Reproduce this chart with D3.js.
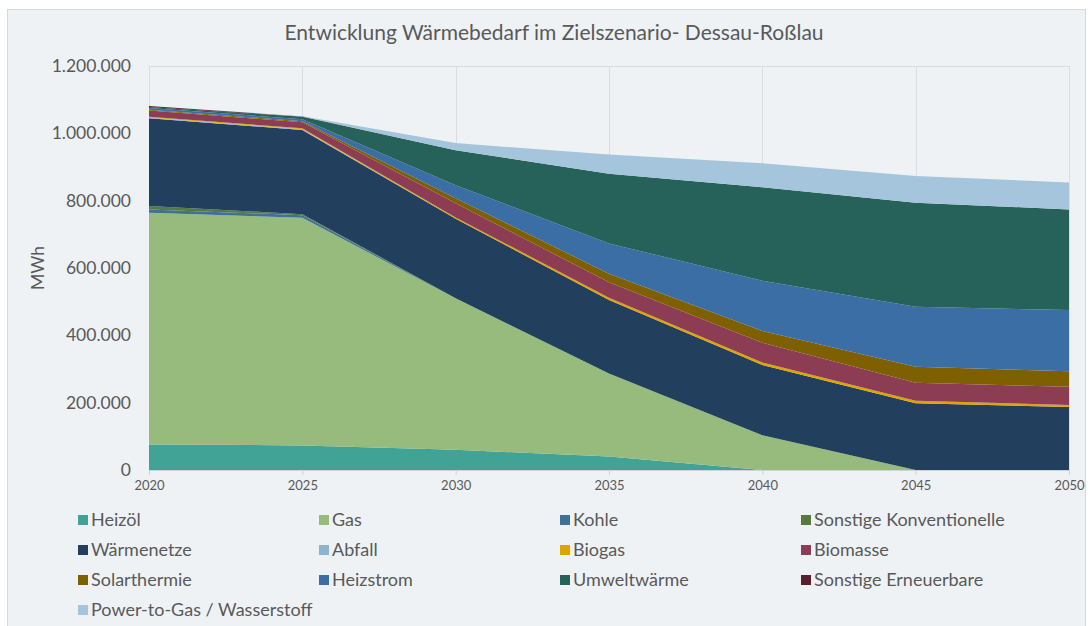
<!DOCTYPE html>
<html>
<head>
<meta charset="utf-8">
<script src="https://cdn.jsdelivr.net/npm/d3@7"></script>
<style>
  body { margin: 0; background: #fff; font-family: Lato, "Open Sans", sans-serif; }
</style>
</head>
<body>
<script>
// years on the x axis
var years = [2020, 2025, 2030, 2035, 2040, 2045, 2050];

// heat demand per source, MWh
var heizoel      = [76000, 73000, 60000, 40000, 0, 0, 0];
var gas          = [688000, 676000, 450000, 247000, 103000, 0, 0];
var kohle        = [10000, 8000, 0, 0, 0, 0, 0];
var sonstKonv    = [10000, 3000, 0, 0, 0, 0, 0];
var waermenetze  = [261000, 250000, 236000, 218000, 209000, 198000, 187000];
var abfall       = [2000, 2000, 0, 0, 0, 0, 0];
var biogas       = [2000, 3000, 4000, 7000, 7000, 8000, 6000];
var biomasse     = [19000, 18000, 42000, 46000, 59000, 53000, 54000];
var solarthermie = [2000, 3000, 15000, 25000, 35000, 48000, 46000];
var heizstrom    = [5000, 6000, 39000, 90000, 149000, 178000, 182000];
var umweltwaerme = [3000, 7000, 104000, 207000, 278000, 309000, 299000];
var sonstErn     = [3000, 1000, 0, 0, 0, 0, 0];
var powerToGas   = [0, 1000, 21000, 57000, 71000, 79000, 80000];

var seriesNames = ["Heizöl", "Gas", "Kohle", "Sonstige Konventionelle", "Wärmenetze", "Abfall",
  "Biogas", "Biomasse", "Solarthermie", "Heizstrom", "Umweltwärme", "Sonstige Erneuerbare",
  "Power-to-Gas / Wasserstoff"];
var seriesValues = [heizoel, gas, kohle, sonstKonv, waermenetze, abfall, biogas, biomasse,
  solarthermie, heizstrom, umweltwaerme, sonstErn, powerToGas];
var seriesColors = ["#41a396", "#97bb7c", "#3d7196", "#557a3e", "#223f5e", "#8db3cf",
  "#e0a400", "#8c3d54", "#7f6000", "#3a6ea5", "#27625a", "#5a1e30", "#a5c5dc"];

var yTicks = [0, 200000, 400000, 600000, 800000, 1000000, 1200000];

// build a row per year for d3.stack
var table = years.map(function(y, i) {
  var row = {year: y};
  seriesNames.forEach(function(name, j) { row[name] = seriesValues[j][i]; });
  return row;
});

var W = 1090, H = 626;
var margin = {top: 66, right: 21, bottom: 156, left: 149},
    width = W - margin.left - margin.right,
    height = H - margin.top - margin.bottom;

var de = d3.formatLocale({decimal: ",", thousands: ".", grouping: [3], currency: ["", " €"]});
var fmt = de.format(",.0f");

var svg = d3.select("body").append("svg")
    .attr("width", W)
    .attr("height", H);

// chart background
svg.append("rect")
    .attr("x", 7.5).attr("y", 9.5)
    .attr("width", 1078).attr("height", 640)
    .attr("fill", "#eef2f5")
    .attr("stroke", "#d9d9d9");

// title
svg.append("text")
    .attr("x", 554)
    .attr("y", 40)
    .attr("text-anchor", "middle")
    .style("font-size", "21px")
    .style("fill", "#595959")
    .text("Entwicklung Wärmebedarf im Zielszenario- Dessau-Roßlau");

var g = svg.append("g")
    .attr("transform", "translate(" + margin.left + "," + margin.top + ")");

var x = d3.scaleLinear().domain([2020, 2050]).range([0, width]);
var y = d3.scaleLinear().domain([0, 1200000]).range([height, 0]);

// vertical gridlines and top frame
g.selectAll(".vgrid")
    .data(years)
    .enter().append("line")
    .attr("x1", function(d) { return Math.round(x(d)) + 0.5; })
    .attr("x2", function(d) { return Math.round(x(d)) + 0.5; })
    .attr("y1", 0)
    .attr("y2", height)
    .attr("stroke", "#dadde0");
g.append("line")
    .attr("x1", 0).attr("x2", width)
    .attr("y1", 0.5).attr("y2", 0.5)
    .attr("stroke", "#dadde0");

var stack = d3.stack().keys(seriesNames);
var layers = stack(table);

var area = d3.area()
    .x(function(d) { return x(d.data.year); })
    .y0(function(d) { return y(d[0]); })
    .y1(function(d) { return y(d[1]); });

g.selectAll(".layer")
    .data(layers)
    .enter().append("path")
    .attr("fill", function(d, i) { return seriesColors[i]; })
    .attr("d", area);

// x axis
var xAxis = g.append("g")
    .attr("transform", "translate(0," + height + ")")
    .call(d3.axisBottom(x).tickValues(years).tickFormat(d3.format("d")).tickSize(5).tickPadding(6));
xAxis.select(".domain").attr("stroke", "#d0d3d6");
xAxis.selectAll(".tick line").attr("stroke", "#d0d3d6");
xAxis.selectAll("text")
    .style("font-family", "Lato, sans-serif")
    .style("font-size", "13px")
    .style("fill", "#595959");

// y axis, labels only
var yAxis = g.append("g")
    .call(d3.axisLeft(y).tickValues(yTicks).tickFormat(fmt).tickSize(0).tickPadding(18));
yAxis.select(".domain").remove();
yAxis.selectAll("text")
    .style("font-family", "Lato, sans-serif")
    .style("font-size", "17.5px")
    .style("fill", "#595959");

// y axis title
svg.append("text")
    .attr("transform", "translate(44,268) rotate(-90)")
    .attr("text-anchor", "middle")
    .style("font-size", "17.5px")
    .style("fill", "#595959")
    .text("MWh");

// legend, 4 columns
var legendCols = [78, 319, 560, 801];
var legend = svg.append("g");
var item = legend.selectAll(".item")
    .data(seriesNames)
    .enter().append("g")
    .attr("transform", function(d, i) {
      return "translate(" + legendCols[i % 4] + "," + (520 + Math.floor(i / 4) * 30) + ")";
    });
item.append("rect")
    .attr("x", 0).attr("y", -5)
    .attr("width", 10).attr("height", 10)
    .attr("fill", function(d, i) { return seriesColors[i]; });
item.append("text")
    .attr("x", 13)
    .attr("y", 6)
    .style("font-size", "18px")
    .style("fill", "#595959")
    .text(function(d) { return d; });
</script>
</body>
</html>
